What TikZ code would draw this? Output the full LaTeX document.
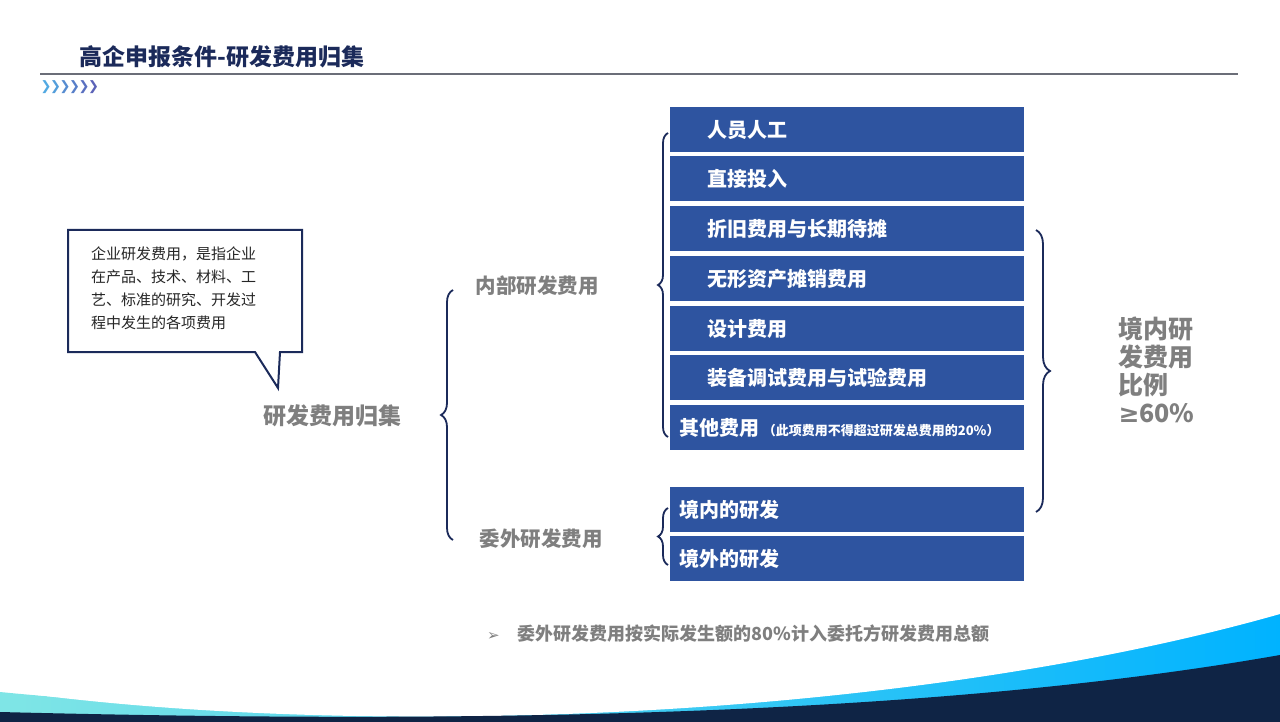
\documentclass[tikz,border=0pt]{standalone}
\usepackage{fontspec}
\setmainfont{Noto Sans CJK SC}
\newfontfamily\dejavu{DejaVu Sans}
\usetikzlibrary{decorations.pathreplacing}
\definecolor{boxblue}{HTML}{2E54A0}
\definecolor{navy}{HTML}{1B2A5A}
\definecolor{gtxt}{HTML}{7F7F7F}
\definecolor{deep}{HTML}{0F2445}
\tikzset{
 item/.style={fill=boxblue,minimum width=354pt,minimum height=45pt,text=white,anchor=north west,inner sep=0pt},
 itemtxt/.style={text=white,font=\bfseries\fontsize{20}{20}\selectfont,anchor=west},
 lbl/.style={text=gtxt,font=\bfseries\fontsize{20.5}{20.5}\selectfont},
 brace/.style={draw=navy,line width=1.8pt,decorate,decoration={brace,amplitude=10pt}},
}
\begin{document}
\begin{tikzpicture}[x=1pt,y=-1pt]
\useasboundingbox (0,0) rectangle (1280,722);
\fill[white] (0,0) rectangle (1280,722);
% bottom wave
\shade[left color=teal!40!cyan!50,right color=cyan!70!blue] (0,692) .. controls (300,722) and (900,722) .. (1280,608) -- (1280,722) -- (0,722) -- cycle;
\fill[white] (0,690) .. controls (350,740) and (900,722) .. (1280,614) -- (1280,600) -- (0,600) -- cycle;
\fill[deep] (0,712) .. controls (400,722) and (900,722) .. (1280,655) -- (1280,722) -- (0,722) -- cycle;
% title
\node[anchor=west,text=navy,font=\bfseries\fontsize{23}{23}\selectfont,inner sep=0pt] (title) at (79,57) {高企申报条件-研发费用归集};
\draw[gray!80!navy,line width=1.5pt] (40,74) -- (1238,74);
\foreach \i/\c in {0/75,1/65,2/50,3/38,4/25,5/14}{
 \node[text=cyan!\c!blue!70,font=\dejavu\bfseries\fontsize{13}{13}\selectfont,inner sep=0pt] (ch\i) at (46+9.5*\i,87) {❯};}
% items
\node[item] (b1) at (670,107) {};
\node[item] (b2) at (670,156) {};
\node[item] (b3) at (670,206) {};
\node[item] (b4) at (670,256) {};
\node[item] (b5) at (670,306) {};
\node[item] (b6) at (670,355) {};
\node[item] (b7) at (670,405) {};
\node[item] (b8) at (670,487) {};
\node[item] (b9) at (670,536) {};
\node[itemtxt] at ([xshift=34pt]b1.west) {人员人工};
\node[itemtxt] at ([xshift=34pt]b2.west) {直接投入};
\node[itemtxt] at ([xshift=34pt]b3.west) {折旧费用与长期待摊};
\node[itemtxt] at ([xshift=34pt]b4.west) {无形资产摊销费用};
\node[itemtxt] at ([xshift=34pt]b5.west) {设计费用};
\node[itemtxt] at ([xshift=34pt]b6.west) {装备调试费用与试验费用};
\node[itemtxt] at ([xshift=6pt]b7.west) {其他费用\,{\fontsize{13}{13}\selectfont（此项费用不得超过研发总费用的20\%）}};
\node[itemtxt] at ([xshift=6pt]b8.west) {境内的研发};
\node[itemtxt] at ([xshift=6pt]b9.west) {境外的研发};
% labels
\node[lbl,font=\bfseries\fontsize{23}{23}\selectfont] (root) at (332,416) {研发费用归集};
\node[lbl] (inner) at (537,286) {内部研发费用};
\node[lbl] (outer) at (541,539) {委外研发费用};
\node[lbl,font=\bfseries\fontsize{25}{28}\selectfont,align=left,anchor=west] (ratio) at (1115,370) {境内研\\发费用\\比例\\{\dejavu ≥}60\%};
% braces
\coordinate (i1) at (668,133); \coordinate (i2) at (668,437);
\draw[brace] (i2) -- (i1);
\coordinate (o1) at (668,508); \coordinate (o2) at (668,565);
\draw[brace] (o2) -- (o1);
\coordinate (r1) at (453,290); \coordinate (r2) at (453,540);
\draw[brace,decoration={amplitude=12pt}] (r2) -- (r1);
\coordinate (q1) at (1036,230); \coordinate (q2) at (1036,512);
\draw[brace,decoration={amplitude=14pt}] (q1) -- (q2);
% callout
\draw[navy,line width=2pt,fill=white] (68,230) -- (302,230) -- (302,352) -- (280,352) -- (278,388) -- (255,352) -- (68,352) -- cycle;
\node[anchor=north west,align=left,text=black!85,font=\fontsize{15}{23}\selectfont,inner sep=0pt] (call) at (91,247) {企业研发费用，是指企业\\在产品、技术、材料、工\\艺、标准的研究、开发过\\程中发生的各项费用};
% note
\node[anchor=west,text=gtxt,font=\bfseries\fontsize{18}{18}\selectfont,inner sep=0pt] (note) at (487,634) {{\dejavu\fontsize{15}{15}\selectfont ➢}\quad 委外研发费用按实际发生额的80\%计入委托方研发费用总额};
\end{tikzpicture}
\end{document}
